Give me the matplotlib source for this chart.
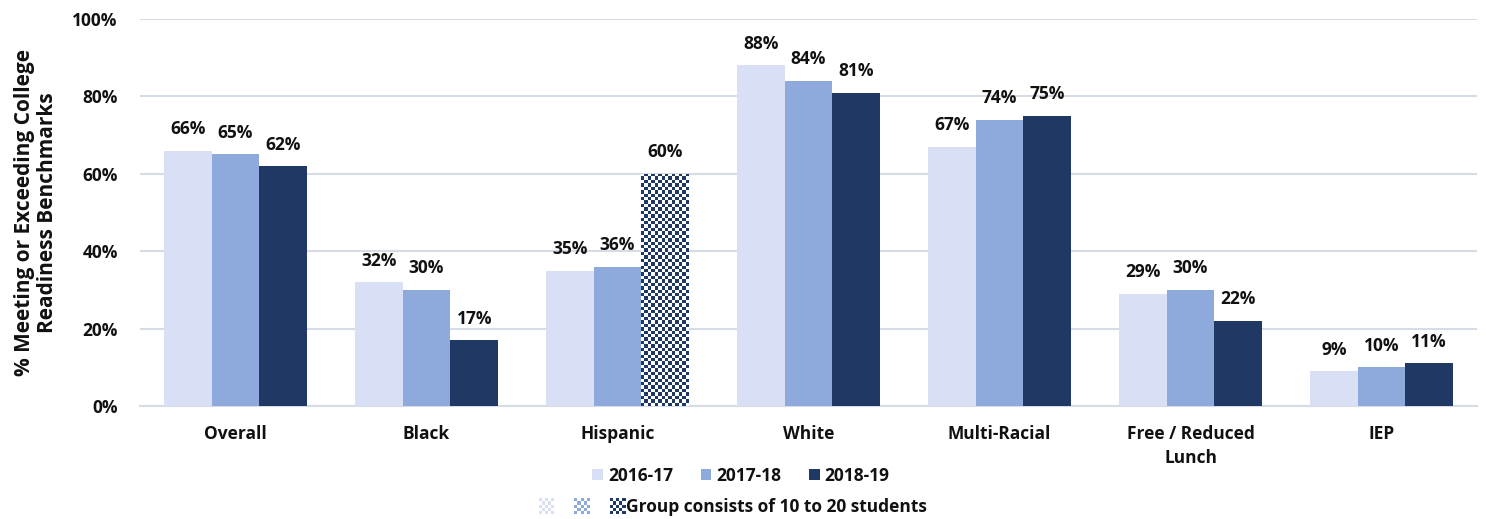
import numpy as np
import matplotlib
matplotlib.use("Agg")
import matplotlib.pyplot as plt
from matplotlib.patches import Rectangle
from matplotlib.legend_handler import HandlerBase

plt.rcParams['font.family'] = ['Open Sans', 'DejaVu Sans']
plt.rcParams['font.weight'] = 'bold'
FS = 12.5

categories = ["Overall", "Black", "Hispanic", "White", "Multi-Racial", "Free / Reduced\nLunch", "IEP"]
years = ["2016-17", "2017-18", "2018-19"]
v2016 = [66, 32, 35, 88, 67, 29, 9]
v2017 = [65, 30, 36, 84, 74, 30, 10]
v2018 = [62, 17, 60, 81, 75, 22, 11]
small_group_2018 = [False, False, True, False, False, False, False]
colors = ["#D9E0F6", "#8EA9DB", "#203864"]
legend_small = "Group consists of 10 to 20 students"

W, H, DPI = 1486, 519, 100
fig = plt.figure(figsize=(W / DPI, H / DPI), dpi=DPI)
ax = fig.add_axes([140 / W, 1 - 406 / H, 1337 / W, 387 / H])

x = np.arange(len(categories))
bw = 0.25
series = [v2016, v2017, v2018]
containers = []
for i, (vals, c) in enumerate(zip(series, colors)):
    bc = ax.bar(x + (i - 1) * bw, [v / 100 for v in vals], width=bw, color=c, zorder=3, linewidth=0)
    containers.append(bc)
    ax.bar_label(bc, labels=[f"{v}%" for v in vals], padding=9, fontsize=FS, fontweight='bold', color='#111111')

ax.set_xlim(-0.5, len(categories) - 0.5)
ax.set_ylim(0, 1.0)


def checker(n_rows, n_cols, color):
    rgb = np.array(matplotlib.colors.to_rgb(color))
    img = np.ones((n_rows, n_cols, 3))
    yy, xx = np.indices((n_rows, n_cols))
    mask = (yy + xx) % 2 == 0
    img[mask] = rgb
    return img


fig.canvas.draw()
cell_px = 3.4
for j, flag in enumerate(small_group_2018):
    if flag:
        patch = containers[2].patches[j]
        patch.set_facecolor('white')
        x0, y0 = patch.get_x(), patch.get_y()
        x1, y1 = x0 + patch.get_width(), y0 + patch.get_height()
        p0 = ax.transData.transform((x0, y0))
        p1 = ax.transData.transform((x1, y1))
        nc = max(1, int(round((p1[0] - p0[0]) / cell_px)))
        nr = max(1, int(round((p1[1] - p0[1]) / cell_px)))
        im = ax.imshow(checker(nr, nc, colors[2]), extent=(x0, x1, y0, y1), origin='lower',
                       interpolation='nearest', aspect='auto', zorder=4)
        im.set_clip_path(patch)
ax.set_xlim(-0.5, len(categories) - 0.5)
ax.set_ylim(0, 1.0)

ax.set_yticks(np.arange(0, 1.01, 0.2))
ax.set_yticklabels([f"{int(round(t*100))}%" for t in np.arange(0, 1.01, 0.2)])
ax.set_xticks(x)
ax.set_xticklabels(categories, linespacing=1.4)
ax.tick_params(axis='y', length=0, pad=16, labelsize=FS, labelcolor='#111111')
ax.tick_params(axis='x', length=0, pad=14, labelsize=FS, labelcolor='#111111')
for lab in ax.get_xticklabels() + ax.get_yticklabels():
    lab.set_fontweight('bold')
ax.grid(axis='y', color='#D6DCE5', linewidth=1.5, zorder=0)
ax.set_axisbelow(True)
for s in ['top', 'right', 'left']:
    ax.spines[s].set_visible(False)
ax.spines['bottom'].set_color('#D6DCE5')
ax.spines['bottom'].set_linewidth(1.5)

fig.text(36 / W, 1 - 213 / H, "% Meeting or Exceeding College\nReadiness Benchmarks", rotation=90,
         ha='center', va='center', fontsize=15, fontweight='bold', color='#111111', linespacing=1.1)

leg1 = fig.legend([c.patches[0] for c in containers], years, loc='center',
                  bbox_to_anchor=(741 / W, 1 - 476 / H), ncol=3, frameon=False,
                  handlelength=0.6, handleheight=0.6, handletextpad=0.3, columnspacing=1.6,
                  prop={'weight': 'bold', 'size': FS})
for t in leg1.get_texts():
    t.set_color('#111111')


class CheckerHandler(HandlerBase):
    def create_artists(self, legend, orig_handle, xdescent, ydescent, width, height, fontsize, trans):
        arts = []
        s = height
        gap = (width - 3 * s) / 2
        n = 5
        cs = s / n
        for k, c in enumerate(colors):
            ox = -xdescent + k * (s + gap)
            oy = -ydescent
            for r in range(n):
                for q in range(n):
                    col = c if (r + q) % 2 == 0 else 'white'
                    arts.append(Rectangle((ox + q * cs, oy + r * cs), cs, cs, facecolor=col,
                                          edgecolor='none', transform=trans))
        return arts


dummy = Rectangle((0, 0), 1, 1)
leg2 = fig.legend([dummy], [legend_small], loc='center', bbox_to_anchor=(733 / W, 1 - 507 / H),
                  frameon=False, handlelength=5.0, handleheight=1.0, handletextpad=0.05,
                  handler_map={Rectangle: CheckerHandler()}, prop={'weight': 'bold', 'size': FS})
for t in leg2.get_texts():
    t.set_color('#111111')

fig.savefig("out.png", dpi=DPI)
